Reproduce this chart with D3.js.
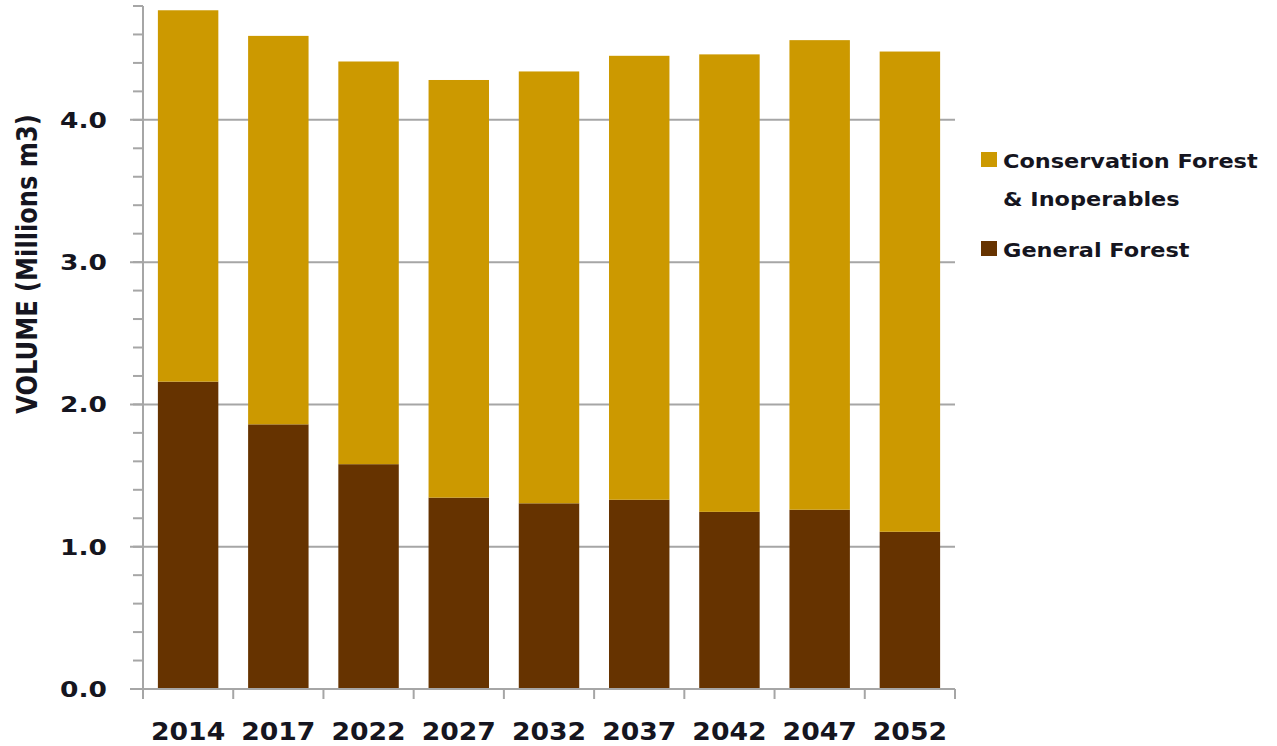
<!DOCTYPE html>
<html>
<head>
<meta charset="utf-8">
<script src="https://cdn.jsdelivr.net/npm/d3@7"></script>
<style>
  body { margin: 0; background: #fff; }
  text { font-family: "DejaVu Sans", sans-serif; font-weight: bold; fill: #151520; }
</style>
</head>
<body>
<div id="chart"></div>
<script>
const years = ["2014", "2017", "2022", "2027", "2032", "2037", "2042", "2047", "2052"];
const generalForest = [2.16, 1.86, 1.58, 1.345, 1.305, 1.33, 1.245, 1.26, 1.105];
const totalVolume = [4.77, 4.59, 4.41, 4.28, 4.34, 4.45, 4.46, 4.56, 4.48];
const conservationForest = totalVolume.map((t, i) => +(t - generalForest[i]).toFixed(3));
const yTicks = [0, 1, 2, 3, 4];
const legendItems = [
    {lines: ["Conservation Forest", "& Inoperables"], color: "#CC9900"},
    {lines: ["General Forest"], color: "#663300"}
];

let svgWidth = 1277, svgHeight = 746;
let plotLeft = 143, plotRight = 955, plotTop = 6, plotBottom = 689;

let svg = d3.select("#chart").append("svg")
    .attr("width", svgWidth)
    .attr("height", svgHeight);

let x = d3.scaleBand()
    .domain(years)
    .range([plotLeft, plotRight])
    .paddingInner(0.33)
    .paddingOuter(0.165);

let y = d3.scaleLinear()
    .domain([0, 4.8])
    .range([plotBottom, plotTop]);

// stretch text horizontally like the original rendering
function stretch(sel, factor) {
    sel.each(function() {
        let len = this.getComputedTextLength();
        d3.select(this).attr("textLength", len * factor).attr("lengthAdjust", "spacingAndGlyphs");
    });
}

// minor ticks every 0.2
let minor = d3.range(0, 4.81, 0.2);
svg.append("g").selectAll("line")
    .data(minor)
    .enter().append("line")
    .attr("x1", plotLeft - 10).attr("x2", plotLeft)
    .attr("y1", d => y(d)).attr("y2", d => y(d))
    .attr("stroke", "#a6a6a6").attr("stroke-width", 2);

// gridlines
svg.append("g").selectAll("line")
    .data(yTicks.filter(d => d > 0))
    .enter().append("line")
    .attr("x1", plotLeft - 13).attr("x2", plotRight)
    .attr("y1", d => y(d)).attr("y2", d => y(d))
    .attr("stroke", "#a6a6a6").attr("stroke-width", 2);

// stacked bars
let stack = d3.stack().keys(["general", "conservation"]);
let rows = years.map((yr, i) => ({year: yr, general: generalForest[i], conservation: conservationForest[i]}));
let colors = {general: "#663300", conservation: "#CC9900"};
let layers = stack(rows);

svg.append("g").selectAll("g")
    .data(layers)
    .enter().append("g")
    .attr("fill", d => colors[d.key])
    .selectAll("rect")
    .data(d => d)
    .enter().append("rect")
    .attr("x", d => x(d.data.year))
    .attr("width", x.bandwidth())
    .attr("y", d => y(d[1]))
    .attr("height", d => y(d[0]) - y(d[1]));

// axes lines
svg.append("line")
    .attr("x1", plotLeft).attr("x2", plotLeft)
    .attr("y1", plotTop).attr("y2", plotBottom)
    .attr("stroke", "#a6a6a6").attr("stroke-width", 2);
svg.append("line")
    .attr("x1", plotLeft - 13).attr("x2", plotRight)
    .attr("y1", plotBottom).attr("y2", plotBottom)
    .attr("stroke", "#a6a6a6").attr("stroke-width", 2);

// x category boundary ticks
let bounds = years.map(d => x(d) - x.step() * x.paddingInner() / 2).concat([plotRight]);
bounds[0] = plotLeft;
svg.append("g").selectAll("line")
    .data(bounds)
    .enter().append("line")
    .attr("x1", d => d).attr("x2", d => d)
    .attr("y1", plotBottom).attr("y2", plotBottom + 10)
    .attr("stroke", "#a6a6a6").attr("stroke-width", 2);

// y labels
let yl = svg.append("g").selectAll("text")
    .data(yTicks)
    .enter().append("text")
    .attr("x", 107)
    .attr("y", d => y(d) + 8)
    .attr("text-anchor", "end")
    .attr("font-size", "21px")
    .text(d => d.toFixed(1));
stretch(yl, 1.26);

// x labels
let xl = svg.append("g").selectAll("text")
    .data(years)
    .enter().append("text")
    .attr("x", d => x(d) + x.bandwidth() / 2)
    .attr("y", 740)
    .attr("text-anchor", "middle")
    .attr("font-size", "24px")
    .text(d => d);
stretch(xl, 1.11);

// y title
let yt = svg.append("text")
    .attr("transform", "translate(37,264) scale(1.25,1) rotate(-90)")
    .attr("text-anchor", "middle")
    .attr("font-size", "23px")
    .text("VOLUME (Millions m3)");
stretch(yt, 1.05);

// legend
let lg = svg.append("g");
let legendY = [168, 257];
legendItems.forEach((item, i) => {
    lg.append("rect")
        .attr("x", 981).attr("y", legendY[i] - 16)
        .attr("width", 16).attr("height", 15)
        .attr("fill", item.color);
    item.lines.forEach((ln, j) => {
        let t = lg.append("text")
            .attr("x", 1003)
            .attr("y", legendY[i] + j * 38)
            .attr("font-size", "20px")
            .text(ln);
        stretch(t, 1.12);
    });
});
</script>
</body>
</html>
